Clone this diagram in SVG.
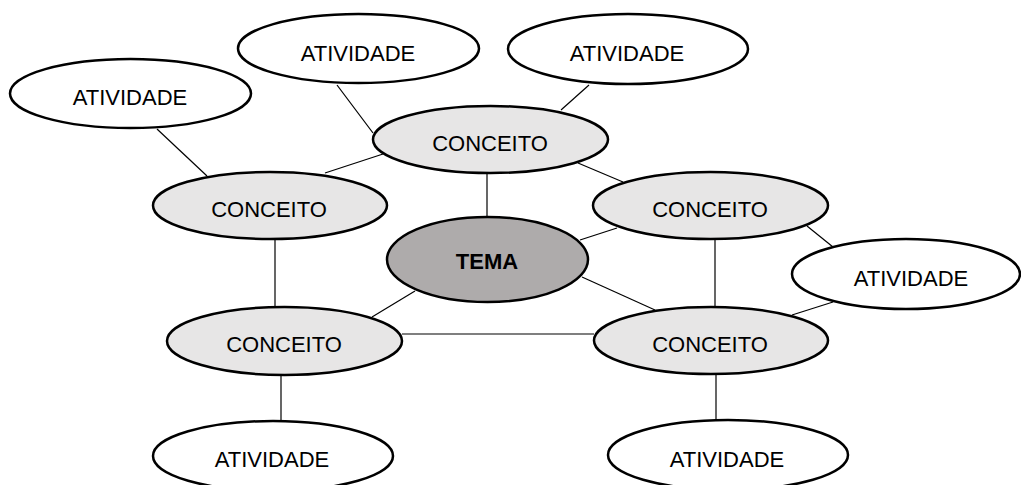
<svg xmlns="http://www.w3.org/2000/svg" width="1021" height="485" viewBox="0 0 1021 485">
<style>
.n{stroke:#000;stroke-width:2.5}
.a{fill:#fff}
.c{fill:#e7e6e6}
.t{fill:#aeabab}
text{font-family:"Liberation Sans",Arial,sans-serif;font-size:22px;text-anchor:middle;fill:#000}
.b{font-weight:bold}
#edges line{stroke:#000;stroke-width:1.2}
</style>
<rect width="1021" height="485" fill="#fff"/>
<g id="edges">
<line x1="157" y1="129" x2="207" y2="176"/>
<line x1="337" y1="85" x2="373" y2="133"/>
<line x1="325" y1="173" x2="383" y2="154"/>
<line x1="589" y1="85" x2="561" y2="110"/>
<line x1="578" y1="163" x2="623" y2="182"/>
<line x1="487" y1="173" x2="487" y2="217"/>
<line x1="580" y1="240" x2="617" y2="228"/>
<line x1="807" y1="226" x2="833" y2="247"/>
<line x1="715" y1="239" x2="715" y2="307"/>
<line x1="833" y1="302" x2="792" y2="315"/>
<line x1="275" y1="239" x2="275" y2="307"/>
<line x1="415" y1="291" x2="372" y2="317"/>
<line x1="582" y1="277" x2="655" y2="310"/>
<line x1="402" y1="334" x2="594" y2="334"/>
<line x1="281" y1="375" x2="281" y2="421"/>
<line x1="716" y1="374" x2="716" y2="420"/>
</g>
<g id="ativ1"><ellipse class="n a" cx="130.5" cy="93.5" rx="120.5" ry="34.5"/><text x="130" y="105">ATIVIDADE</text></g>
<g id="ativ2"><ellipse class="n a" cx="358.5" cy="48.5" rx="120.5" ry="34.5"/><text x="358" y="61">ATIVIDADE</text></g>
<g id="ativ3"><ellipse class="n a" cx="628" cy="49" rx="120" ry="35"/><text x="627" y="61">ATIVIDADE</text></g>
<g id="conc1"><ellipse class="n c" cx="490.5" cy="139.5" rx="117.5" ry="33.5"/><text x="490" y="151">CONCEITO</text></g>
<g id="conc2"><ellipse class="n c" cx="270" cy="205.5" rx="117" ry="33.5"/><text x="269" y="217">CONCEITO</text></g>
<g id="conc3"><ellipse class="n c" cx="710.5" cy="205.5" rx="117.5" ry="33.5"/><text x="710" y="217">CONCEITO</text></g>
<g id="tema"><ellipse class="n t" cx="487.5" cy="259.5" rx="100.5" ry="42.5"/><text class="b" x="487" y="269">TEMA</text></g>
<g id="ativ4"><ellipse class="n a" cx="906" cy="274" rx="114" ry="35"/><text x="911" y="286">ATIVIDADE</text></g>
<g id="conc4"><ellipse class="n c" cx="284.5" cy="341" rx="117.5" ry="34"/><text x="284" y="352">CONCEITO</text></g>
<g id="conc5"><ellipse class="n c" cx="711" cy="340.5" rx="117" ry="33.5"/><text x="710" y="352">CONCEITO</text></g>
<g id="ativ5"><ellipse class="n a" cx="273" cy="456" rx="120" ry="35"/><text x="272" y="467">ATIVIDADE</text></g>
<g id="ativ6"><ellipse class="n a" cx="728" cy="455" rx="120" ry="35"/><text x="727" y="467">ATIVIDADE</text></g>
</svg>
